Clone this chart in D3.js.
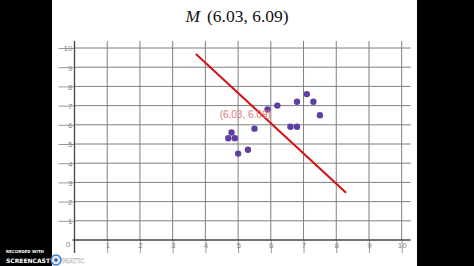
<!DOCTYPE html>
<html>
<head>
<meta charset="utf-8">
<script src="https://cdn.jsdelivr.net/npm/d3@7"></script>
<style>
  html, body { margin: 0; padding: 0; background: #000; }
  svg { display: block; }
</style>
</head>
<body>
<svg width="474" height="266"></svg>
<script>
// scatter points
const xs = [4.8, 4.7, 4.9, 5.0, 5.3, 5.5, 5.9, 6.2, 6.6, 6.8, 6.8, 7.1, 7.3, 7.5];
const ys = [5.6, 5.3, 5.3, 4.5, 4.7, 5.8, 6.8, 7.0, 5.9, 5.9, 7.2, 7.6, 7.2, 6.5];
const mean = [6.03, 6.09];
const lineEnds = [[3.71, 9.69], [8.30, 2.46]];
const ticks = [1, 2, 3, 4, 5, 6, 7, 8, 9, 10];

const svg = d3.select('svg');

// white "slide" between the black bars
svg.append('rect').attr('x', 52).attr('y', 0).attr('width', 365).attr('height', 266).attr('fill', '#fff');

const x = d3.scaleLinear().domain([0, 10]).range([74.5, 401.7]);
const y = d3.scaleLinear().domain([0, 10]).range([240, 48]);

// title
const title = svg.append('text')
  .attr('x', 237).attr('y', 22)
  .attr('text-anchor', 'middle')
  .style('font-family', '"Liberation Serif", "DejaVu Serif", serif')
  .style('font-size', '17.5px')
  .attr('fill', '#111');
title.append('tspan').style('font-style', 'italic').text('M');
title.append('tspan').attr('dx', 7).text('(6.03,  6.09)');

// grid
const grid = svg.append('g').attr('stroke', '#808080').attr('stroke-width', 1);
grid.selectAll('.v').data(ticks).join('line')
  .attr('x1', d => x(d)).attr('x2', d => x(d))
  .attr('y1', y(10) - 7).attr('y2', y(0));
grid.selectAll('.h').data(ticks).join('line')
  .attr('x1', x(0)).attr('x2', x(10) + 9)
  .attr('y1', d => y(d)).attr('y2', d => y(d));

// axes
const yAxis = d3.axisLeft(y).tickValues(ticks).tickSize(16).tickPadding(-14).tickFormat(d3.format('d'));
const xAxis = d3.axisBottom(x).tickValues(ticks).tickSize(13).tickPadding(-11).tickFormat(d3.format('d'));

const gy = svg.append('g').attr('transform', `translate(${x(0)},0)`).call(yAxis);
const gx = svg.append('g').attr('transform', `translate(0,${y(0)})`).call(xAxis);

[gx, gy].forEach(g => {
  g.select('.domain').remove();
  g.selectAll('line').attr('stroke', '#999');
  g.selectAll('text').attr('fill', '#888')
    .style('font-family', '"Liberation Sans", Arial, sans-serif').style('font-size', '8px');
});
gy.selectAll('text').attr('dy', '0.35em');

// axis lines
svg.append('line').attr('x1', x(0)).attr('x2', x(0)).attr('y1', y(10) - 7).attr('y2', y(0) + 13)
  .attr('stroke', '#444').attr('stroke-width', 1.3);
svg.append('line').attr('x1', x(0) - 2).attr('x2', x(10) + 9).attr('y1', y(0)).attr('y2', y(0))
  .attr('stroke', '#444').attr('stroke-width', 1.3);
svg.append('text').attr('x', x(0) - 4).attr('y', y(0) + 7).attr('text-anchor', 'end')
  .attr('fill', '#888').style('font-family', '"Liberation Sans", Arial, sans-serif').style('font-size', '8px')
  .text('0');

// points
svg.append('g').selectAll('circle').data(xs.map((d, i) => [d, ys[i]])).join('circle')
  .attr('cx', d => x(d[0])).attr('cy', d => y(d[1])).attr('r', 3.2)
  .attr('fill', '#5f3f9f');

// line through the mean
svg.append('path')
  .attr('d', d3.line().x(d => x(d[0])).y(d => y(d[1]))(lineEnds))
  .attr('stroke', '#d41010').attr('stroke-width', 2).attr('fill', 'none');

// mean label
svg.append('text')
  .attr('x', x(mean[0]) - 1).attr('y', y(mean[1]) - 5)
  .attr('text-anchor', 'end')
  .attr('fill', '#e07a7a')
  .style('font-family', '"Liberation Sans", Arial, sans-serif').style('font-size', '10px')
  .text(`(${mean[0].toFixed(2)}, ${mean[1].toFixed(2)})`);

// watermark
const wm = svg.append('g').style('font-family', '"DejaVu Sans", sans-serif').attr('font-weight', 'bold');
wm.append('text').attr('x', 6).attr('y', 252.5).attr('fill', '#fff').style('font-size', '4px').text('RECORDED WITH');
wm.append('text').attr('x', 6).attr('y', 262.5).attr('fill', '#fff').style('font-size', '6px').text('SCREENCAST');
wm.append('circle').attr('cx', 56).attr('cy', 260).attr('r', 5).attr('fill', '#dfe8f3').attr('stroke', '#3d7cc9').attr('stroke-width', 1.5);
wm.append('circle').attr('cx', 56).attr('cy', 260).attr('r', 1.8).attr('fill', '#2a5fa8');
wm.append('text').attr('x', 62).attr('y', 262.5).attr('fill', '#fff').attr('fill-opacity', 0.75)
  .attr('stroke', '#999').attr('stroke-width', 0.3).style('font-size', '6.5px').text('MATIC');
</script>
</body>
</html>
